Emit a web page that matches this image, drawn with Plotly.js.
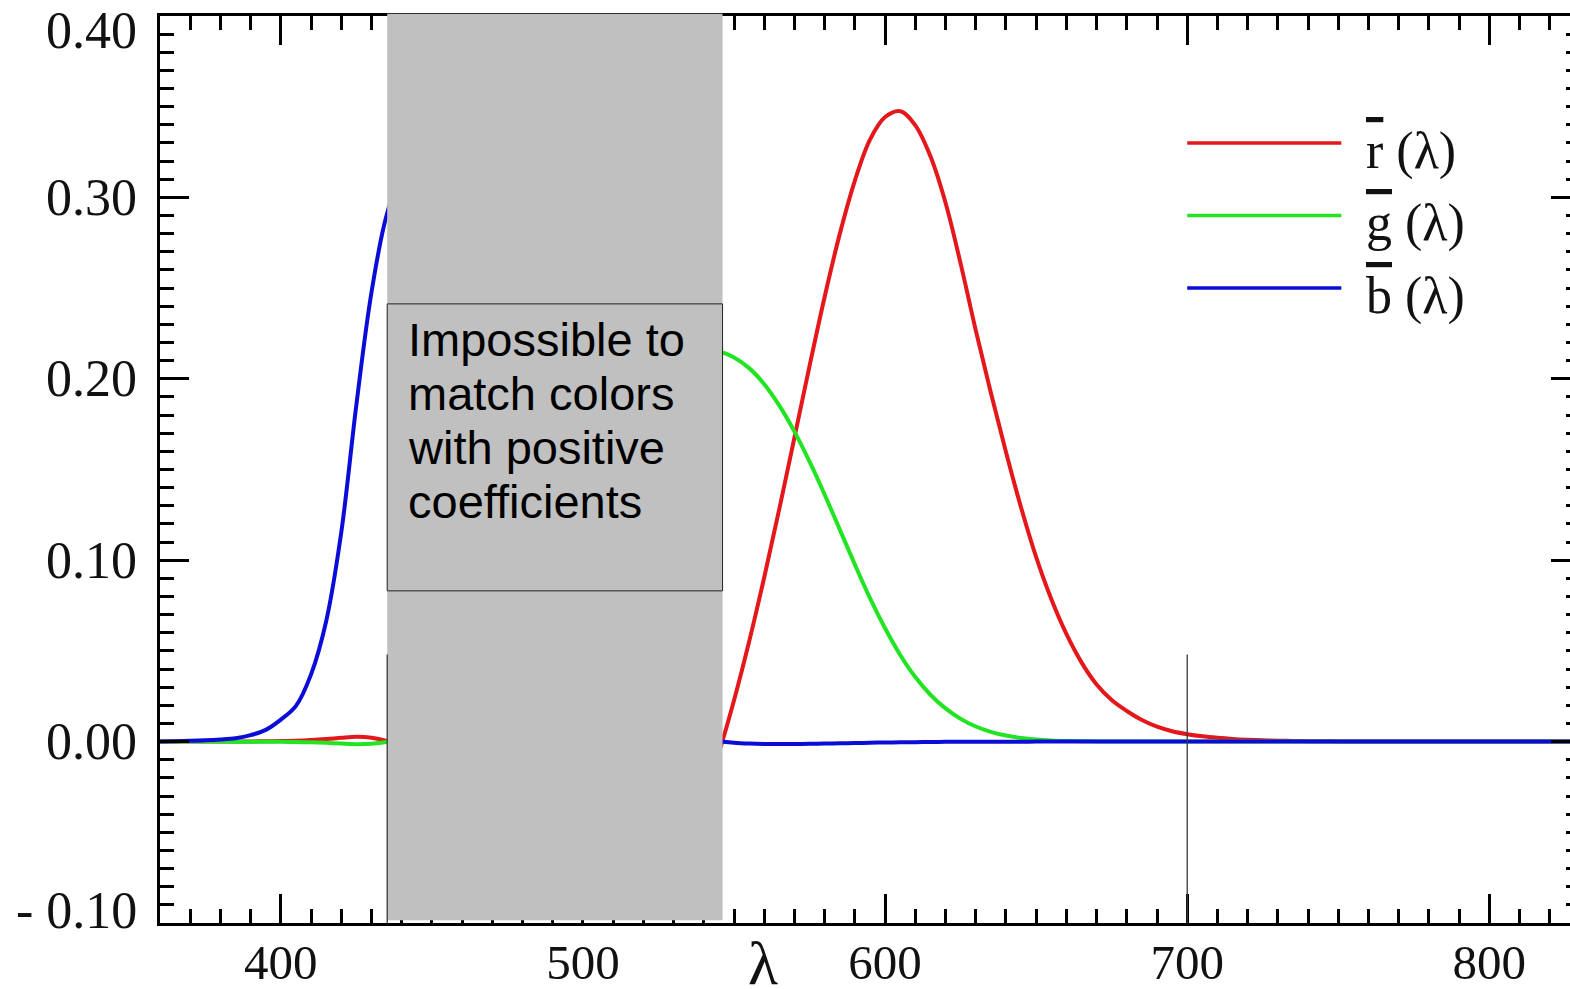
<!DOCTYPE html>
<html>
<head>
<meta charset="utf-8">
<script src="https://cdn.plot.ly/plotly-3.0.1.min.js"></script>
<style>
  html, body { margin: 0; padding: 0; overflow: hidden; background: #fff; }
  #chart { width: 1580px; height: 1000px; }
</style>
</head>
<body>
<div id="chart"></div>
<script>
// Wavelength (nm)
const wavelengths = [360,365,370,375,380,385,390,395,400,405,410,415,420,425,430,435,440,445,450,455,460,465,470,475,480,485,490,495,500,505,510,515,520,525,530,535,540,545,550,555,560,565,570,575,580,585,590,595,600,605,610,615,620,625,630,635,640,645,650,655,660,665,670,675,680,685,690,695,700,705,710,715,720,725,730,735,740,745,750,755,760,765,770,775,780,785,790,795,800,805,810,815,820,825,830];

// r̄(λ)
const rBar = [0.00000,0.00000,0.00001,0.00002,0.00003,0.00005,0.00010,0.00017,0.00030,0.00047,0.00084,0.00139,0.00211,0.00266,0.00218,0.00036,-0.00261,-0.00673,-0.01213,-0.01874,-0.02608,-0.03324,-0.03933,-0.04471,-0.04939,-0.05364,-0.05814,-0.06414,-0.07173,-0.08120,-0.08901,-0.09356,-0.09264,-0.08473,-0.07101,-0.05316,-0.03152,-0.00613,0.02279,0.05514,0.09060,0.12840,0.16768,0.20715,0.24526,0.27989,0.30928,0.33184,0.34429,0.34756,0.33971,0.32265,0.29708,0.26348,0.22677,0.19233,0.15968,0.12905,0.10167,0.07857,0.05932,0.04366,0.03149,0.02294,0.01687,0.01187,0.00819,0.00572,0.00410,0.00291,0.00210,0.00148,0.00105,0.00074,0.00052,0.00036,0.00025,0.00017,0.00012,0.00008,0.00006,0.00004,0.00003,0.00001,0.00000,0.00000,0.00000,0.00000,0.00000,0.00000,0.00000,0.00000,0.00000,0.00000,0.00000];

// ḡ(λ)
const gBar = [0.00000,0.00000,0.00000,-0.00001,-0.00001,-0.00002,-0.00004,-0.00007,-0.00014,-0.00022,-0.00041,-0.00070,-0.00110,-0.00143,-0.00119,-0.00021,0.00149,0.00379,0.00678,0.01046,0.01485,0.01977,0.02538,0.03183,0.03914,0.04713,0.05689,0.06948,0.08536,0.10593,0.12860,0.15262,0.17468,0.19113,0.20317,0.21083,0.21466,0.21487,0.21178,0.20588,0.19702,0.18522,0.17087,0.15429,0.13610,0.11686,0.09754,0.07909,0.06246,0.04776,0.03557,0.02583,0.01828,0.01253,0.00833,0.00537,0.00334,0.00199,0.00116,0.00066,0.00037,0.00021,0.00011,0.00006,0.00003,0.00001,0.00000,0.00000,0.00000,0.00000,0.00000,0.00000,0.00000,0.00000,0.00000,0.00000,0.00000,0.00000,0.00000,0.00000,0.00000,0.00000,0.00000,0.00000,0.00000,0.00000,0.00000,0.00000,0.00000,0.00000,0.00000,0.00000,0.00000,0.00000,0.00000];

// b̄(λ)
const bBar = [0.00010,0.00020,0.00040,0.00070,0.00117,0.00189,0.00359,0.00647,0.01214,0.01969,0.03707,0.06637,0.11541,0.18575,0.24769,0.29012,0.31228,0.31860,0.31670,0.31166,0.29821,0.27295,0.22991,0.18592,0.14494,0.10968,0.08257,0.06246,0.04776,0.03688,0.02698,0.01842,0.01221,0.00830,0.00549,0.00320,0.00146,0.00023,-0.00058,-0.00105,-0.00130,-0.00138,-0.00135,-0.00123,-0.00108,-0.00093,-0.00079,-0.00063,-0.00049,-0.00038,-0.00030,-0.00022,-0.00015,-0.00011,-0.00008,-0.00005,-0.00003,-0.00002,-0.00001,-0.00001,0.00000,0.00000,0.00000,0.00000,0.00000,0.00000,0.00000,0.00000,0.00000,0.00000,0.00000,0.00000,0.00000,0.00000,0.00000,0.00000,0.00000,0.00000,0.00000,0.00000,0.00000,0.00000,0.00000,0.00000,0.00000,0.00000,0.00000,0.00000,0.00000,0.00000,0.00000,0.00000,0.00000,0.00000,0.00000];

// Axis ticks
const xTickVals = [400, 500, 600, 700, 800];
const xTickText = ["400", "500", "600", "700", "800"];
const yTickVals = [-0.1, 0.0, 0.1, 0.2, 0.3, 0.4];
const yTickText = ["- 0.10", "0.00", "0.10", "0.20", "0.30", "0.40"];

// Legend
const seriesNames = ["<span style='text-decoration:overline'>r</span> (λ)", "<span style='text-decoration:overline'>g</span> (λ)", "<span style='text-decoration:overline'>b</span> (λ)"];
const seriesColors = ["rgb(228,24,26)", "rgb(34,228,34)", "rgb(12,12,216)"];
const legendY = [0.330, 0.290, 0.250];

// Shaded band (primaries) and note
const bandStart = 435.2;
const bandEnd = 546.2;
const noteLines = ["Impossible to", "match colors", "with positive", "coefficients"];
const noteLineY = [0.2214, 0.1917, 0.1619, 0.1321];
const markerLines = [435.2, 700];

const serif = "'Liberation Serif', 'Times New Roman', serif";
const sans = "'Liberation Sans', Arial, sans-serif";

const seriesData = [rBar, gBar, bBar];
const traces = seriesData.map((vals, i) => ({
  x: wavelengths,
  y: vals,
  type: "scatter",
  mode: "lines",
  line: { color: seriesColors[i], width: 4, shape: "spline", smoothing: 1 },
  showlegend: false,
  hoverinfo: "skip"
}));

const shapes = [];
// Grey band
shapes.push({
  type: "rect", xref: "x", yref: "paper",
  x0: bandStart, x1: bandEnd, y0: 0.003, y1: 1.0025,
  fillcolor: "#c0c0c0", line: { width: 0 }, layer: "above"
});
// Thin vertical marker lines
markerLines.forEach(xv => shapes.push({
  type: "line", xref: "x", yref: "y",
  x0: xv, x1: xv, y0: -0.1, y1: 0.048,
  line: { color: "#3a3a3a", width: 1.3 }, layer: "above"
}));
// Note box
shapes.push({
  type: "rect", xref: "x", yref: "y",
  x0: bandStart, x1: bandEnd, y0: 0.0831, y1: 0.2413,
  fillcolor: "#c0c0c0", line: { color: "#222", width: 1 }, layer: "above"
});
// Legend sample lines
seriesColors.forEach((c, i) => shapes.push({
  type: "line", xref: "x", yref: "y",
  x0: 700, x1: 751, y0: legendY[i], y1: legendY[i],
  line: { color: c, width: 3.5 }, layer: "above"
}));

const annotations = [];
// Y tick labels (end labels nudged inward as in the original figure)
const yMax = Math.max(...yTickVals), yMin = Math.min(...yTickVals);
yTickVals.forEach((v, i) => annotations.push({
  text: yTickText[i], xref: "paper", yref: "y", x: 0, y: v,
  xanchor: "right", yanchor: "middle", xshift: -21,
  yshift: v === yMax ? -14 : (v === yMin ? 13 : 0),
  showarrow: false,
  font: { family: serif, size: 52, color: "#111" }
}));
noteLines.forEach((t, i) => annotations.push({
  text: t, xref: "x", yref: "y", x: 441.4, y: noteLineY[i],
  xanchor: "left", yanchor: "middle", showarrow: false,
  font: { family: sans, size: 47, color: "#000" }
}));
seriesNames.forEach((t, i) => annotations.push({
  text: t, xref: "x", yref: "y", x: 758.5, y: legendY[i] - 0.0042,
  xanchor: "left", yanchor: "middle", showarrow: false,
  font: { family: serif, size: 52, color: "#111" }
}));
annotations.push({
  text: "λ", xref: "x", yref: "paper", x: 559.5, y: -0.004,
  xanchor: "center", yanchor: "top", showarrow: false,
  font: { family: serif, size: 62, color: "#111" }
});

const axisCommon = {
  showline: true, linecolor: "#000", linewidth: 3, mirror: "ticks",
  ticks: "inside", tickcolor: "#000", tickwidth: 3, ticklen: 29,
  showgrid: false, zeroline: false, fixedrange: true
};

const layout = {
  width: 1580, height: 1000,
  margin: { l: 160, r: 0, t: 16, b: 77 },
  paper_bgcolor: "#fff", plot_bgcolor: "#fff",
  showlegend: false,
  xaxis: Object.assign({}, axisCommon, {
    range: [360, 830],
    tickmode: "array", tickvals: xTickVals, ticktext: xTickText,
    tickfont: { family: serif, size: 49, color: "#111" },
    ticklabelstandoff: -6,
    minor: { dtick: 10, tick0: 360, ticks: "inside", ticklen: 14, tickwidth: 3, tickcolor: "#000", showgrid: false }
  }),
  yaxis: Object.assign({}, axisCommon, {
    range: [-0.1, 0.4],
    tickmode: "array", tickvals: yTickVals, ticktext: yTickText,
    showticklabels: false,
    minor: { dtick: 0.01, tick0: 0, ticks: "inside", ticklen: 14, tickwidth: 3, tickcolor: "#000", showgrid: false }
  }),
  shapes: shapes,
  annotations: annotations
};

Plotly.newPlot("chart", traces, layout, { displayModeBar: false, staticPlot: true });
</script>
</body>
</html>
